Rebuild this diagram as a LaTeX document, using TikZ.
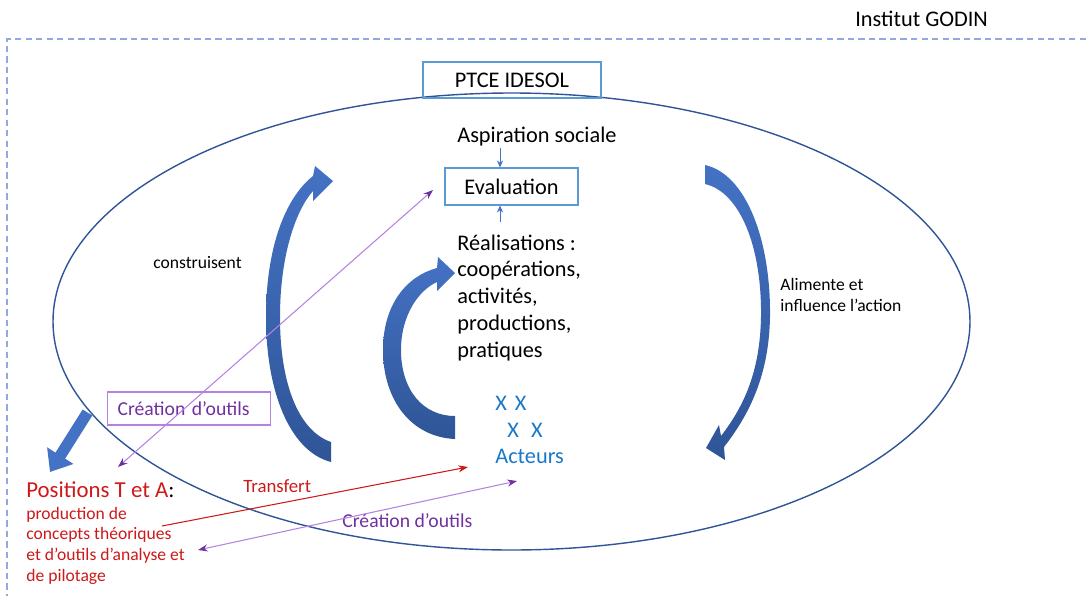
\documentclass[tikz,border=0pt]{standalone}
\usepackage{fontspec}
\setmainfont{Carlito}
\usepackage{tikz}
\usetikzlibrary{arrows.meta,positioning}
\definecolor{Cadre}{RGB}{143,170,220}
\definecolor{Ovale}{RGB}{47,85,151}
\definecolor{Boite}{RGB}{91,155,213}
\definecolor{FlecheHaut}{RGB}{68,114,196}
\definecolor{FlecheBas}{RGB}{47,85,151}
\definecolor{Violet}{RGB}{112,48,160}
\definecolor{VioletClair}{RGB}{180,130,225}
\definecolor{Rouge}{RGB}{205,25,25}
\definecolor{Acteur}{RGB}{25,120,200}
\newcommand\policegrande{\fontsize{12.7}{15.4}\selectfont}
\newcommand\policemoyenne{\fontsize{11.2}{13.4}\selectfont}
\newcommand\policepetite{\fontsize{10}{12}\selectfont}

\tikzset{
  txt/.style={inner sep=0pt, anchor=base west},
  boite/.style={draw=Boite, line width=0.6pt, inner sep=0pt},
  grossefleche/.style={top color=FlecheHaut, bottom color=FlecheBas, draw=none},
  flechedroite/.style={FlecheHaut, line width=6.5pt, -{Triangle[width=17pt,length=11pt]}},
  petite/.style={FlecheHaut, line width=0.5pt, -{Stealth[length=4pt,width=3.5pt]}},
  violette/.style={VioletClair, line width=0.6pt, {Stealth[length=5.5pt,width=4pt,color=Violet]}-{Stealth[length=5.5pt,width=4pt,color=Violet]}},
  rouge/.style={Rouge, line width=0.6pt, -{Stealth[length=5.5pt,width=4pt]}},
}

\begin{document}
\begin{tikzpicture}[x=0.02cm,y=-0.02cm]
\useasboundingbox (0,0) rectangle (1086,596);
% cadre de l'institut
\draw[Cadre, line width=1.4pt, dash pattern=on 3.6pt off 2.4pt] (1086,39) -- (7,39) -- (7,596);
\node[txt, font=\policegrande] (godin) at (855,26) {Institut GODIN};
% le PTCE
\draw[Ovale, line width=0.8pt] (511.5,321.5) ellipse [x radius=458.5, y radius=228.5];
\node[boite, minimum width=3.56cm, minimum height=0.72cm, font=\policegrande] (ptce) at (512,80) {PTCE IDESOL};
\node[txt, font=\policegrande] (asp) at (457,142) {Aspiration sociale};
\node[boite, minimum width=2.66cm, minimum height=0.74cm, font=\policegrande] (eval) at (511.5,186.5) {Evaluation};
\coordinate (aspbas) at (500,148);
\coordinate (realhaut) at (500,222);
\draw[petite] (aspbas) -- (aspbas |- eval.north);
\draw[petite] (realhaut) -- (realhaut |- eval.south);
%
\foreach \ligne [count=\i] in {{R\'ealisations :},{coop\'erations,},{activit\'es,},{productions,},{pratiques}}
  \node[txt, font=\policegrande] (real\i) at (457,{250+26.8*(\i-1)}) {\ligne};
%
\node[txt, font=\policegrande, text=Acteur] (x1) at (495,410) {X\hspace{4.5pt}X};
\node[txt, font=\policegrande, text=Acteur] (x2) at (507,437) {X\hspace{7pt}X};
\node[txt, font=\policegrande, text=Acteur] (acteurs) at (495,463) {Acteurs};
%
\node[txt, font=\policepetite] (constr) at (153,268) {construisent};
\node[txt, font=\policepetite] (alim1) at (780,290) {Alimente et};
\node[txt, font=\policepetite] (alim2) at (780,311) {influence l’action};
%
% grosses fleches courbes
\path[grossefleche] (331,462) .. controls (289,451) and (266,390) .. (266,317)
  .. controls (266,250) and (284,199) .. (313,176) -- (315,166) -- (333,181) -- (313,201) -- (313,191)
  .. controls (296,210) and (280,255) .. (280,317) .. controls (280,385) and (299,431) .. (331,442) -- cycle;
\path[grossefleche] (455,439) .. controls (411,437) and (383,400) .. (383,350)
  .. controls (383,304) and (407,276) .. (437,268) -- (438,257) -- (455,273) -- (437,291) -- (437,282)
  .. controls (419,290) and (401,315) .. (401,350) .. controls (401,390) and (423,416) .. (455,416) -- cycle;
\path[grossefleche] (705,165) .. controls (746,174) and (771,240) .. (770,317)
  .. controls (769,370) and (753,410) .. (724,447) -- (725,460) -- (706,448) -- (719,425) -- (721,436)
  .. controls (745,405) and (760,370) .. (761,317) .. controls (762,247) and (740,192) .. (705,184) -- cycle;
\draw[flechedroite] (87.5,412.5) -- (50,472);
%
% positions T et A
\node[txt, font=\fontsize{13}{15.6}\selectfont, text=Rouge] (pos) at (26,497) {Positions T et A\textcolor{black}{:}};
\foreach \ligne [count=\i] in {{production de},{concepts th\'eoriques},{et d’outils d’analyse et},{de pilotage}}
  \node[txt, font=\policepetite, text=Rouge] (prod\i) at (26,{519+20.7*(\i-1)}) {\ligne};
%
\node[boite, draw=VioletClair, anchor=west, minimum height=0.66cm, inner xsep=0.2cm, text width=2.86cm, align=left, font=\policemoyenne, text=Violet] (outils1) at (107,408.5) {Création d’outils};
\node[txt, font=\policemoyenne, text=Violet] (outils2) at (342,527) {Création d’outils};
\node[txt, font=\fontsize{10.7}{12.8}\selectfont, text=Rouge] (transf) at (243,492) {Transfert};
%
\coordinate (evalpt) at (433,190);
\coordinate (pospt) at (118,467);
\coordinate (prodpt) at (198,550);
\coordinate (actpt) at (517,481);
\coordinate (transdeb) at (162,526);
\coordinate (transfin) at (468,467);
\draw[violette] (evalpt) -- (pospt);
\draw[violette] (prodpt) -- (actpt);
\draw[rouge] (transdeb) -- (transfin);
\end{tikzpicture}
\end{document}
